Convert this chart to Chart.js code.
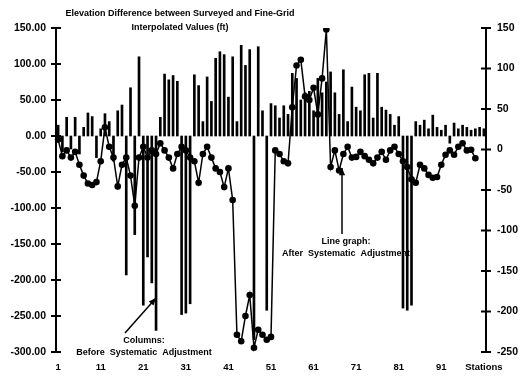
<!DOCTYPE html>
<html><head><meta charset="utf-8">
<script src="https://cdn.jsdelivr.net/npm/chart.js@4.4.1/dist/chart.umd.min.js"></script>
<style>html,body{margin:0;padding:0;background:#fff;}#wrap{width:523px;height:379px;}</style>
</head><body><div id="wrap"><canvas id="c" width="523" height="379"></canvas></div>
<script>
// Stations 1..101
const stations = Array.from({length: 101}, (_, i) => String(i + 1));
const xTickLabels = ['1','11','21','31','41','51','61','71','81','91','Stations'];
const leftTicks = [150,100,50,0,-50,-100,-150,-200,-250,-300];
const rightTicks = [150,100,50,0,-50,-100,-150,-200,-250];

// Columns: before systematic adjustment (ft)
const beforeAdjustment = [
  15,-22,26,-18,26,-25,12,32,27,-30,
  10,31,20,-35,35,43,-193,67,-137,110,
  -235,-168,-204,-270,26,86,78,84,76,-248,
  -246,-233,85,70,20,82,48,108,117,113,
  54,110,20,126,98,120,-283,124,35,-242,
  45,42,25,42,30,87,80,50,60,62,
  35,80,60,75,89,60,30,92,20,68,
  40,35,85,87,25,87,40,36,30,15,
  27,-239,-242,-235,20,15,22,10,29,12,
  8,15,-10,18,10,15,12,8,10,12,
  10
];

// Line graph: after systematic adjustment (ft)
const afterAdjustment = [
  -5,-28,-20,-30,-22,-40,-55,-66,-68,-64,
  -35,12,-15,-30,-70,-40,-30,-55,-97,-30,
  -15,-30,-20,-25,-10,-20,-30,-45,-25,-15,
  -20,-30,-35,-65,-25,-15,-30,-45,-50,-71,
  -45,-89,-276,-285,-250,-221,-294,-269,-276,-283,
  -279,-20,-25,-35,-38,40,98,106,55,50,
  67,30,80,148,-43,-20,-48,-25,-15,-30,
  -29,-22,-28,-33,-38,-30,-22,-33,-20,-15,
  -25,-35,-43,-60,-65,-40,-45,-54,-58,-57,
  -40,-26,-20,-26,-15,-10,-20,-19,-31,null,
  null
];

const FONT = '"Liberation Sans", Arial, Helvetica, sans-serif';

const decorations = {
  id: 'decorations',
  afterDraw(chart) {
    const ctx = chart.ctx;
    const yL = chart.scales.y, yR = chart.scales.y2;
    ctx.save();
    ctx.strokeStyle = '#000';
    ctx.lineWidth = 2;
    leftTicks.forEach(v => {
      const py = yL.getPixelForValue(v);
      ctx.beginPath(); ctx.moveTo(yL.right - 5, py); ctx.lineTo(yL.right + 5, py); ctx.stroke();
    });
    rightTicks.forEach(v => {
      const py = yR.getPixelForValue(v);
      ctx.beginPath(); ctx.moveTo(yR.left - 5, py); ctx.lineTo(yR.left + 5, py); ctx.stroke();
    });
    ctx.fillStyle = '#000';
    ctx.textAlign = 'center';
    ctx.textBaseline = 'middle';
    ctx.font = 'bold 9px ' + FONT;
    ctx.fillText('Elevation Difference between Surveyed and Fine-Grid', 180, 14);
    ctx.fillText('Interpolated Values (ft)', 180, 28);
    ctx.font = 'bold 9px ' + FONT;
    ctx.fillText('Columns:', 144, 341);
    ctx.fillText('Before  Systematic  Adjustment', 144, 353);
    ctx.fillText('Line graph:', 346, 242);
    ctx.fillText('After  Systematic  Adjustment', 346, 254);
    // arrows
    function arrow(x1, y1, x2, y2) {
      ctx.lineWidth = 1.5;
      ctx.beginPath(); ctx.moveTo(x1, y1); ctx.lineTo(x2, y2); ctx.stroke();
      const a = Math.atan2(y2 - y1, x2 - x1), L = 8, W = 0.4;
      ctx.beginPath();
      ctx.moveTo(x2, y2);
      ctx.lineTo(x2 - L * Math.cos(a - W), y2 - L * Math.sin(a - W));
      ctx.lineTo(x2 - L * Math.cos(a + W), y2 - L * Math.sin(a + W));
      ctx.closePath(); ctx.fill();
    }
    arrow(125, 333, 156, 298);
    arrow(342, 234, 342, 168);
    ctx.restore();
  }
};

new Chart(document.getElementById('c'), {
  type: 'bar',
  data: {
    labels: stations,
    datasets: [
      {
        type: 'line',
        label: 'After Systematic Adjustment',
        data: afterAdjustment,
        yAxisID: 'y',
        borderColor: '#000',
        borderWidth: 1.5,
        pointRadius: 3.3,
        pointBackgroundColor: '#000',
        pointBorderWidth: 0,
        tension: 0,
        spanGaps: false,
        order: 0
      },
      {
        type: 'bar',
        label: 'Before Systematic Adjustment',
        data: beforeAdjustment,
        yAxisID: 'y',
        backgroundColor: '#000',
        borderWidth: 0,
        barThickness: 2,
        order: 1
      }
    ]
  },
  options: {
    responsive: false,
    animation: false,
    devicePixelRatio: 1,
    layout: { padding: { top: 28, left: 0, right: 0, bottom: 0 } },
    plugins: { legend: { display: false }, tooltip: { enabled: false }, title: { display: false } },
    scales: {
      x: {
        type: 'category',
        offset: true,
        grid: { display: false, drawTicks: false },
        border: { display: false },
        afterFit(s) { s.height = 27; },
        ticks: {
          autoSkip: false, maxRotation: 0, minRotation: 0, padding: 10,
          color: '#000',
          font: { family: FONT, size: 9.5, weight: 'bold' },
          callback(value, index) { return index % 10 === 0 ? xTickLabels[index / 10] : ''; }
        }
      },
      y: {
        position: 'left',
        min: -300, max: 150,
        grid: { display: false, drawTicks: false },
        border: { display: true, color: '#000', width: 2 },
        afterFit(s) { s.width = 56; },
        ticks: {
          stepSize: 50, padding: 10, color: '#000',
          font: { family: FONT, size: 10.5, weight: 'bold' },
          callback(v) { return v.toFixed(2); }
        }
      },
      y2: {
        position: 'right',
        min: -250, max: 150,
        grid: { display: false, drawTicks: false },
        border: { display: true, color: '#000', width: 2 },
        afterFit(s) { s.width = 37; },
        ticks: {
          stepSize: 50, padding: 11, color: '#000',
          font: { family: FONT, size: 10.5, weight: 'bold' },
          callback(v) { return String(v); }
        }
      }
    }
  },
  plugins: [decorations]
});
</script>
</body></html>
